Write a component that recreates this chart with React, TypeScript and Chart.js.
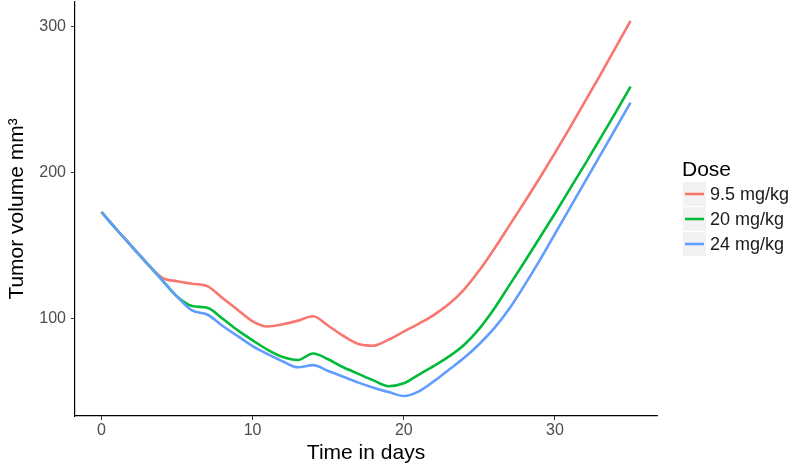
import React, { useEffect, useRef } from 'react';
import { Chart, registerables } from 'chart.js';

Chart.register(...registerables);

const FONT = '"Liberation Sans", Arial, Helvetica, sans-serif';

// Time in days
const days = [
  0, 1, 2, 3, 4, 5, 6, 7, 8, 9, 10, 11, 12, 13, 14, 15, 16, 17,
  18, 19, 20, 21, 22, 23, 24, 25, 26, 27, 28, 29, 30, 31, 32, 33, 34, 35,
];

// Tumor volume (mm³) per dose
const dose95 = [
  173, 161, 149.5, 138, 128, 125.5, 123.8, 122.2, 114, 106, 98, 94.5, 96, 98.5, 101.5, 95, 88, 82.5,
  81.3, 85.5, 91, 96.5, 102.5, 110, 120, 133, 148, 164, 180, 196.5, 213.5, 231, 249, 267, 285.5, 304,
];
const dose20 = [
  173, 161, 149.5, 138, 126.5, 115, 108.5, 107.3, 100, 92, 85, 78.5, 73.5, 71.5, 76, 72, 66.5, 62,
  57.5, 53.5, 55.5, 61.5, 67.5, 74, 82, 93, 107, 123, 139, 155.5, 172, 189, 206, 223.5, 241, 259,
];
const dose24 = [
  173, 161, 149.5, 138, 126.5, 115, 105.5, 102.7, 95, 88, 81, 75.5, 70.5, 66.5, 68, 64, 60, 56,
  52.5, 49.5, 46.8, 50, 57, 65, 73, 82.5, 93.5, 107, 123, 140, 158, 176, 194, 212, 230, 248,
];

const seriesLabels = ['9.5 mg/kg', '20 mg/kg', '24 mg/kg'];
const seriesValues = [dose95, dose20, dose24];
const seriesColors = ['#F8766D', '#00BA38', '#619CFF'];

const xTicks = [0, 10, 20, 30];
const yTicks = [100, 200, 300];

const legendTitle = 'Dose';
const xTitle = 'Time in days';
const yTitle = 'Tumor volume mm³';

const legendPlugin = {
  id: 'ggLegend',
  afterDraw(chart: any) {
    const ctx = chart.ctx as CanvasRenderingContext2D;
    ctx.save();
    ctx.fillStyle = '#000';
    ctx.font = `21px ${FONT}`;
    ctx.textAlign = 'left';
    ctx.textBaseline = 'alphabetic';
    ctx.fillText(legendTitle, 682, 176);
    seriesLabels.forEach((lab, i) => {
      const top = 182 + i * 25;
      ctx.fillStyle = '#F2F2F2';
      ctx.fillRect(683, top, 23, 24);
      ctx.strokeStyle = seriesColors[i];
      ctx.lineWidth = 2.6;
      ctx.beginPath();
      ctx.moveTo(685, top + 12);
      ctx.lineTo(704, top + 12);
      ctx.stroke();
      ctx.fillStyle = '#1a1a1a';
      ctx.font = `18px ${FONT}`;
      ctx.textBaseline = 'middle';
      ctx.fillText(lab, 710, top + 13);
    });
    ctx.restore();
  },
};

export default function App() {
  const ref = useRef<HTMLCanvasElement | null>(null);

  useEffect(() => {
    if (!ref.current) return;
    Chart.defaults.font.family = FONT;
    const datasets = seriesLabels.map((label, i) => ({
      label,
      data: days.map((d, j) => ({ x: d, y: seriesValues[i][j] })),
      borderColor: seriesColors[i],
      backgroundColor: seriesColors[i],
      borderWidth: 2.6,
      pointRadius: 0,
      fill: false,
      cubicInterpolationMode: 'monotone' as const,
      order: 3 - i,
    }));
    const chart = new Chart(ref.current, {
      type: 'line',
      data: { datasets },
      options: {
        animation: false,
        responsive: false,
        devicePixelRatio: 1,
        layout: { padding: { top: 2, right: 131, left: 0, bottom: 0 } },
        plugins: { legend: { display: false }, tooltip: { enabled: false } },
        scales: {
          x: {
            type: 'linear',
            min: -1.75,
            max: 36.75,
            afterBuildTicks: (s: any) => {
              s.ticks = xTicks.map((v) => ({ value: v }));
            },
            afterFit: (s: any) => {
              s.height = 52;
              s.paddingLeft = 0;
              s.paddingRight = 0;
            },
            grid: { drawOnChartArea: false, drawTicks: true, tickLength: 4, color: '#333333', lineWidth: 1 },
            border: { display: true, color: '#000', width: 1.2 },
            ticks: { color: '#4D4D4D', font: { size: 16 }, padding: 1, maxRotation: 0, autoSkip: false },
            title: { display: true, text: xTitle, color: '#000', font: { size: 21 }, padding: { top: 0, bottom: 2 } },
          },
          y: {
            type: 'linear',
            min: 33.1,
            max: 317,
            afterBuildTicks: (s: any) => {
              s.ticks = yTicks.map((v) => ({ value: v }));
            },
            afterFit: (s: any) => {
              s.width = 75;
              s.paddingTop = 0;
              s.paddingBottom = 0;
            },
            grid: { drawOnChartArea: false, drawTicks: true, tickLength: 4, color: '#333333', lineWidth: 1 },
            border: { display: true, color: '#000', width: 1.2 },
            ticks: { color: '#4D4D4D', font: { size: 16 }, padding: 5 },
            title: { display: true, text: yTitle, color: '#000', font: { size: 21 }, padding: { top: 5, bottom: 0 } },
          },
        },
      },
      plugins: [legendPlugin],
    });
    return () => chart.destroy();
  }, []);

  return (
    <div style={{ position: 'fixed', left: 0, top: 0, width: 788, height: 468, background: '#fff' }}>
      <canvas ref={ref} width={788} height={468} style={{ display: 'block', width: 788, height: 468 }} />
    </div>
  );
}
